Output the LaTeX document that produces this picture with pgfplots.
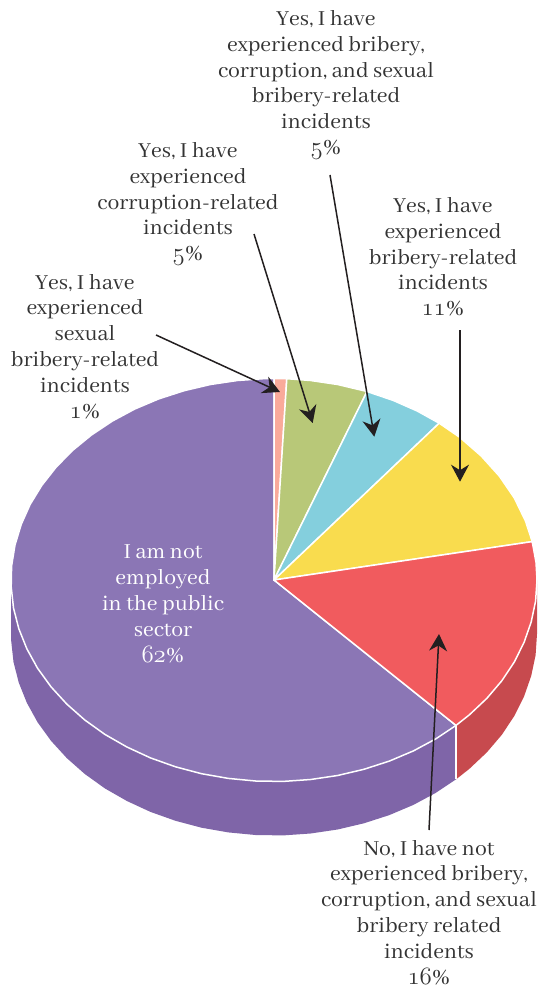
\documentclass[border=0pt]{standalone}
\usepackage{fontspec}
\setmainfont{Abhaya Libre}
\usepackage{pgfplots}
\pgfplotsset{compat=1.18}
\usetikzlibrary{arrows.meta}
\definecolor{cpurple}{HTML}{8B76B5}
\definecolor{cpurpled}{HTML}{7F65A8}
\definecolor{cred}{HTML}{F15B5E}
\definecolor{credd}{HTML}{C74A4E}
\definecolor{cyellow}{HTML}{F9DC4E}
\definecolor{cblue}{HTML}{84CFDD}
\definecolor{cgreen}{HTML}{B8C878}
\definecolor{cpink}{HTML}{F9AA9A}
\definecolor{ctext}{HTML}{333333}
\definecolor{carrow}{HTML}{231F20}
\newcommand{\osn}[1]{{\usefont{OML}{cmm}{m}{it}#1}}
\begin{document}
\begin{tikzpicture}
\path[use as bounding box] (0,0) rectangle (538pt,992pt);
\begin{axis}[
  at={(0,0)}, anchor=south west,
  width=538pt, height=992pt, scale only axis,
  xmin=0, xmax=538, ymin=0, ymax=992, y dir=reverse,
  axis lines=none, clip=false
]
% sides
\addplot[fill=cpurpled,draw=none] coordinates {
(274,580)(456,725.4)(456,779.4)(435.9,792.8)(413.4,804.9)(389.3,815.1)(363.9,823.3)(337.6,829.5)(310.6,833.5)(283.2,835.4)(255.6,835.0)(228.3,832.4)(201.5,827.7)(175.5,820.8)(150.5,811.9)(126.9,801.0)(104.9,788.4)(84.8,774.0)(66.8,758.1)(51.0,740.8)(37.6,722.3)(26.9,702.9)(18.8,682.7)(13.5,662.0)(11.2,641.0)(11,634)(11,580)
} -- cycle;
\addplot[fill=credd,draw=none] coordinates {
(274,580)(537,580)(537,634)(535.6,655.1)(531.2,675.9)(524.1,696.3)(514.3,716)(501.8,734.8)(486.8,752.4)(469.4,768.8)(456,779.4)(456,725.4)
} -- cycle;
\addplot[draw=white,line width=1.5pt] coordinates {(456,725.4)(456,779.4)};
% top face
\addplot[fill=cpurple,draw=white,line width=1.5pt,line join=round] coordinates {
(274,580)(456.0,725.4)(435.9,738.8)(413.4,750.9)(389.3,761.1)(363.9,769.3)(337.6,775.5)(310.6,779.5)(283.2,781.4)(255.6,781.0)(228.3,778.4)(201.5,773.7)(175.5,766.8)(150.5,757.9)(126.9,747.0)(104.9,734.4)(84.8,720.0)(66.8,704.1)(51.0,686.8)(37.6,668.3)(26.9,648.9)(18.8,628.7)(13.5,608.0)(11.2,587.0)(11.6,565.9)(15.0,545.0)(21.2,524.5)(30.1,504.5)(41.8,485.4)(56.0,467.3)(72.5,450.5)(91.3,435.1)(112.1,421.2)(134.6,409.1)(158.7,398.9)(184.1,390.7)(210.4,384.5)(237.4,380.5)(264.8,378.6)(274,378.5)
} -- cycle;
\addplot[fill=cpink,draw=white,line width=1.5pt,line join=round] coordinates {
(274,580)(274,378.5)(280,378.5)(286.8,378.7)
} -- cycle;
\addplot[fill=cgreen,draw=white,line width=1.5pt,line join=round] coordinates {
(274,580)(286.8,378.7)(310.6,380.5)(337.6,384.5)(367.0,391.5)
} -- cycle;
\addplot[fill=cblue,draw=white,line width=1.5pt,line join=round] coordinates {
(274,580)(367.0,391.5)(393.4,400.5)(417.2,411.0)(439.2,423.2)
} -- cycle;
\addplot[fill=cyellow,draw=white,line width=1.5pt,line join=round] coordinates {
(274,580)(439.2,423.2)(460.0,437.5)(481.2,456.0)(499.4,476.2)(514.3,498.0)(525.5,521.1)(532.2,541.6)
} -- cycle;
\addplot[fill=cred,draw=white,line width=1.5pt,line join=round] coordinates {
(274,580)(532.2,541.6)(536.0,562.4)(537,580)(535.6,601.1)(531.2,621.9)(524.1,642.3)(514.3,662.0)(501.8,680.8)(486.8,698.4)(469.4,714.8)(456.0,725.4)
} -- cycle;
% arrows
\addplot[carrow,line width=1.5pt,-{Stealth[length=17pt,width=18pt,inset=5.5pt]}] coordinates {(156,335)(280,392)};
\addplot[carrow,line width=1.5pt,-{Stealth[length=17pt,width=18pt,inset=5.5pt]}] coordinates {(254,234)(312.7,423)};
\addplot[carrow,line width=1.5pt,-{Stealth[length=17pt,width=18pt,inset=5.5pt]}] coordinates {(330,175)(374.3,436.7)};
\addplot[carrow,line width=1.5pt,-{Stealth[length=17pt,width=18pt,inset=5.5pt]}] coordinates {(460,330)(460,481.7)};
\addplot[carrow,line width=1.5pt,-{Stealth[length=17pt,width=18pt,inset=5.5pt]}] coordinates {(429,830)(439,634)};
% labels
\tikzset{lbl/.style={align=center,inner sep=0pt,text=ctext,font=\fontsize{23.6}{25.8}\selectfont}}
\node[lbl] at (axis cs:326,85) {Yes, I have\\experienced bribery,\\corruption, and sexual\\bribery-related\\incidents\\\osn{5}\%};
\node[lbl] at (axis cs:188,204) {Yes, I have\\experienced\\corruption-related\\incidents\\\osn{5}\%};
\node[lbl] at (axis cs:443,257) {Yes, I have\\experienced\\bribery-related\\incidents\\\osn{11}\%};
\node[lbl] at (axis cs:85,346.5) {Yes, I have\\experienced\\sexual\\bribery-related\\incidents\\\osn{1}\%};
\node[lbl] at (axis cs:429,912.5) {No, I have not\\experienced bribery,\\corruption, and sexual\\bribery related\\incidents\\\osn{16}\%};
\node[lbl,text=white] at (axis cs:163,604) {I am not\\employed\\in the public\\sector\\\osn{62}\%};
\end{axis}
\end{tikzpicture}
\end{document}
